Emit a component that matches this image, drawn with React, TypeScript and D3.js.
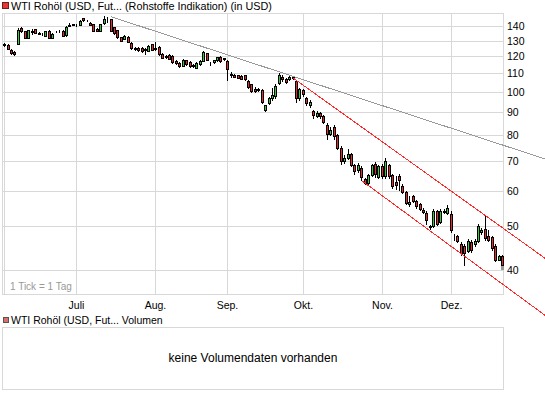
import React from 'react';
import * as d3 from 'd3';

// OHLC, one entry per weekday from 2 June to 22 December (index 0..145)
const opens = [127.3,127.1,124.0,122.8,128.0,138.6,136.3,132.1,136.3,137.9,135.4,134.7,133.5,137.0,132.0,136.3,136.6,137.0,133.8,140.5,141.2,
140.6,140.9,145.8,144.5,142.7,141.5,138.4,136.8,142.3,144.5,145.3,139.4,137.1,132.2,131.1,132.6,128.6,125.2,125.4,125.4,124.8,123.4,127.5,
124.5,125.9,121.5,120.4,121.0,120.3,117.0,115.8,114.4,117.5,116.5,114.6,113.2,115.2,117.3,121.9,115.6,116.3,117.4,119.7,118.9,
117.3,109.3,109.1,108.7,108.4,108.7,105.5,103.8,101.5,101.0,101.0,91.2,94.4,96.6,97.6,104.4,108.0,106.8,106.6,107.0,105.4,96.9,
101.0,96.9,93.1,90.5,88.4,89.5,88.2,84.4,80.5,83.5,79.9,74.8,70.0,71.2,72.5,68.6,66.8,67.5,63.6,62.6,65.1,69.0,64.4,
68.3,64.7,68.6,65.1,62.7,64.7,61.5,59.7,56.0,58.5,57.0,56.0,54.3,53.6,49.8,50.0,54.1,51.0,53.9,53.4,
53.2,47.2,47.5,45.5,45.1,44.0,46.2,45.7,46.4,48.5,49.3,47.5,47.2,45.1,42.1,42.9];
const highs = [128.5,127.6,124.5,123.3,138.5,139.2,136.8,137.6,137.9,138.3,136.2,135.3,136.7,137.4,135.2,137.0,137.2,137.4,139.9,142.5,142.0,
141.5,144.3,146.3,144.9,143.2,141.8,138.9,142.0,147.5,146.5,145.6,139.8,137.5,132.6,133.7,133.3,129.0,125.8,125.8,125.9,125.5,127.2,127.9,
129.0,126.3,122.0,120.8,121.5,121.0,117.4,116.7,118.0,117.9,116.9,115.5,116.4,117.6,123.0,122.3,116.5,117.9,119.8,120.1,119.2,
117.6,110.5,109.5,109.0,108.8,109.2,106.0,104.2,102.5,102.0,101.5,93.5,97.5,101.7,104.0,110.0,108.8,107.5,108.6,108.3,106.0,102.0,
101.5,97.5,96.0,91.0,90.5,90.0,88.6,85.0,83.5,84.4,80.5,75.5,72.0,74.5,73.0,69.0,69.2,68.0,64.0,65.5,69.0,69.5,68.5,
68.8,71.0,69.0,65.5,64.7,65.5,62.0,60.0,58.5,58.8,57.3,56.3,54.8,54.0,50.3,54.5,54.4,54.5,54.5,55.8,
54.0,48.0,47.8,46.0,45.5,46.8,46.6,46.8,50.5,49.5,52.6,48.9,47.5,45.5,43.0,43.2];
const lows = [126.8,124.4,121.2,121.0,127.6,135.8,131.6,131.8,134.6,135.0,134.4,134.0,133.2,131.7,131.8,135.8,136.0,133.0,133.5,140.0,140.8,
140.2,140.6,144.2,144.1,140.6,136.5,136.3,136.5,142.0,143.5,136.5,134.7,131.8,129.8,130.8,128.8,124.7,124.2,123.5,122.9,121.5,123.1,123.7,
124.0,120.8,118.7,119.2,118.2,115.8,115.4,113.5,114.0,114.6,113.8,113.5,112.8,114.8,117.0,117.4,114.8,116.0,117.1,116.4,117.7,
106.0,108.0,107.6,107.0,106.5,106.1,101.9,99.8,100.0,100.3,94.5,90.5,94.0,96.0,97.0,104.0,105.5,104.5,106.0,106.5,94.8,96.0,
98.0,93.5,92.5,87.5,87.8,87.5,85.0,78.5,80.0,78.5,74.3,69.0,69.3,70.8,68.0,65.5,66.0,63.5,62.0,62.0,64.8,64.5,64.0,
64.0,64.2,64.0,61.0,60.5,60.2,59.3,56.0,55.5,56.7,55.0,54.3,53.5,50.5,49.3,49.8,50.2,50.7,53.6,53.2,
48.5,46.6,46.0,43.0,40.9,43.7,43.8,45.2,46.0,48.0,46.5,46.4,44.2,41.8,41.9,40.8];
const closes = [127.7,124.8,121.8,121.5,137.5,136.3,132.1,137.1,136.0,135.4,134.9,134.4,136.3,132.0,134.8,136.6,136.4,133.3,139.4,140.8,141.6,
141.0,143.9,144.5,144.4,141.0,136.8,136.6,141.5,145.3,144.7,136.8,135.0,132.2,130.1,133.3,129.3,125.0,124.8,123.8,123.2,124.2,126.8,124.0,
125.5,121.1,119.1,119.6,118.6,116.2,115.8,114.0,117.7,115.0,114.2,114.3,116.0,117.2,122.6,117.8,115.8,117.5,119.4,116.8,118.0,
112.1,109.0,108.0,107.3,106.9,106.5,102.3,100.2,100.5,101.2,95.0,93.1,96.9,98.5,103.2,109.0,106.6,105.2,108.0,107.6,96.6,101.4,
98.7,94.1,94.7,88.6,89.6,88.0,85.3,80.4,82.0,79.5,74.8,69.8,71.2,72.5,68.6,66.6,68.5,64.5,62.5,65.0,68.4,65.3,68.0,
64.7,69.8,64.7,61.5,61.9,63.3,59.7,56.3,56.5,57.0,55.5,54.6,53.9,51.6,50.0,54.1,50.5,54.1,54.2,55.0,
48.9,47.4,46.4,43.5,43.6,46.4,44.3,46.4,50.0,49.0,47.0,46.6,44.7,42.1,42.9,41.0];

const lastQuote = 40.3;
const monthLabels = ['Juli', 'Aug.', 'Sep.', 'Okt.', 'Nov.', 'Dez.'];
const monthStartIdx = [21, 44, 65, 87, 110, 130];
const firstMonthIdx = 0;
const priceTicks = [40, 50, 60, 70, 80, 90, 100, 110, 120, 130, 140];
// trend lines: [index, price] pairs
const trendGray = [[31, 147.2], [157.5, 70.7]];
const trendRedUpper = [[84.2, 107.2], [157.5, 42.4]];
const trendRedLower = [[104.4, 63.0], [157.5, 31.6]];

const titleText = 'WTI Rohöl (USD, Fut... (Rohstoffe Indikation) (in USD)';
const volTitle = 'WTI Rohöl (USD, Fut... Volumen';
const noVolText = 'keine Volumendaten vorhanden';
const tickText = '1 Tick = 1 Tag';

const FONT = '"Liberation Sans", Arial, sans-serif';

export default function App() {
  const x = d3.scaleLinear().domain([0, 145]).range([4.2, 502]);
  const y = d3.scaleLog().domain([40, 140]).range([269.5, 26.3]);
  const grid = '#d8d8d8';
  const line = (pts: number[][]) =>
    d3.line<number[]>().x((d) => x(d[0])).y((d) => y(d[1]))(pts) || '';

  return (
    <svg width={545} height={395} style={{ position: 'absolute', left: 0, top: 0, background: '#fff' }}
      fontFamily={FONT}>
      <rect x={0} y={0} width={545} height={395} fill="#fff" />
      {/* title legend */}
      <rect x={2.5} y={2.5} width={6} height={6} fill="#ee3333" stroke="#6a2020" />
      <text x={11} y={10} fontSize={10.8} fill="#000">{titleText}</text>

      {/* horizontal grid */}
      {priceTicks.map((p) => (
        <line key={'h' + p} x1={3} x2={503} y1={Math.round(y(p)) + 0.5} y2={Math.round(y(p)) + 0.5} stroke={grid} />
      ))}
      {/* vertical grid */}
      {[firstMonthIdx, ...monthStartIdx].map((m) => (
        <line key={'v' + m} x1={Math.round(x(m)) + 0.5} x2={Math.round(x(m)) + 0.5} y1={13} y2={294} stroke={grid} />
      ))}
      {/* plot border */}
      <rect x={2.5} y={13.5} width={501} height={281} fill="none" stroke={grid} />

      {/* y labels */}
      {priceTicks.map((p) => (
        <text key={'t' + p} x={507} y={Math.round(y(p)) + 4} fontSize={10.5} fill="#000">{p}</text>
      ))}
      {/* month labels */}
      {monthStartIdx.map((m, k) => (
        <text key={'m' + m} x={Math.round(x(m)) + 0.5} y={308.5} fontSize={10.5} textAnchor="middle" fill="#000">{monthLabels[k]}</text>
      ))}
      <text x={10} y={289.5} fontSize={10} fill="#999">{tickText}</text>

      {/* candles */}
      {opens.map((o, i) => {
        const c = closes[i];
        const cx = Math.round(x(i));
        const t = Math.round(y(Math.max(o, c)));
        const b = Math.round(y(Math.min(o, c)));
        const up = c >= o;
        return (
          <g key={'c' + i}>
            <line x1={cx + 0.5} x2={cx + 0.5} y1={Math.round(y(highs[i]))} y2={Math.round(y(lows[i])) + 1} stroke="#000" />
            <rect x={cx - 0.5} y={t + 0.5} width={2} height={Math.max(0, b - t)} fill={up ? '#33cc33' : '#e8282a'} stroke="#000" />
          </g>
        );
      })}
      <rect x={Math.round(x(145)) - 1} y={Math.round(y(lastQuote)) - 2} width={3} height={4} fill="#999" />

      {/* trend lines */}
      <path d={line(trendGray)} stroke="#999" fill="none" shapeRendering="crispEdges" />
      <path d={line(trendRedUpper)} stroke="#ff2a2a" fill="none" shapeRendering="crispEdges" />
      <path d={line(trendRedLower)} stroke="#ff2a2a" fill="none" shapeRendering="crispEdges" />

      {/* volume panel */}
      <rect x={3.5} y={317.5} width={5} height={5} fill="#d9706b" stroke="#555" />
      <text x={11} y={324} fontSize={10.5} fill="#000">{volTitle}</text>
      <rect x={2.5} y={327.5} width={501} height={62} fill="#fff" stroke={grid} />
      <text x={253} y={362} fontSize={12} textAnchor="middle" fill="#000">{noVolText}</text>
    </svg>
  );
}
